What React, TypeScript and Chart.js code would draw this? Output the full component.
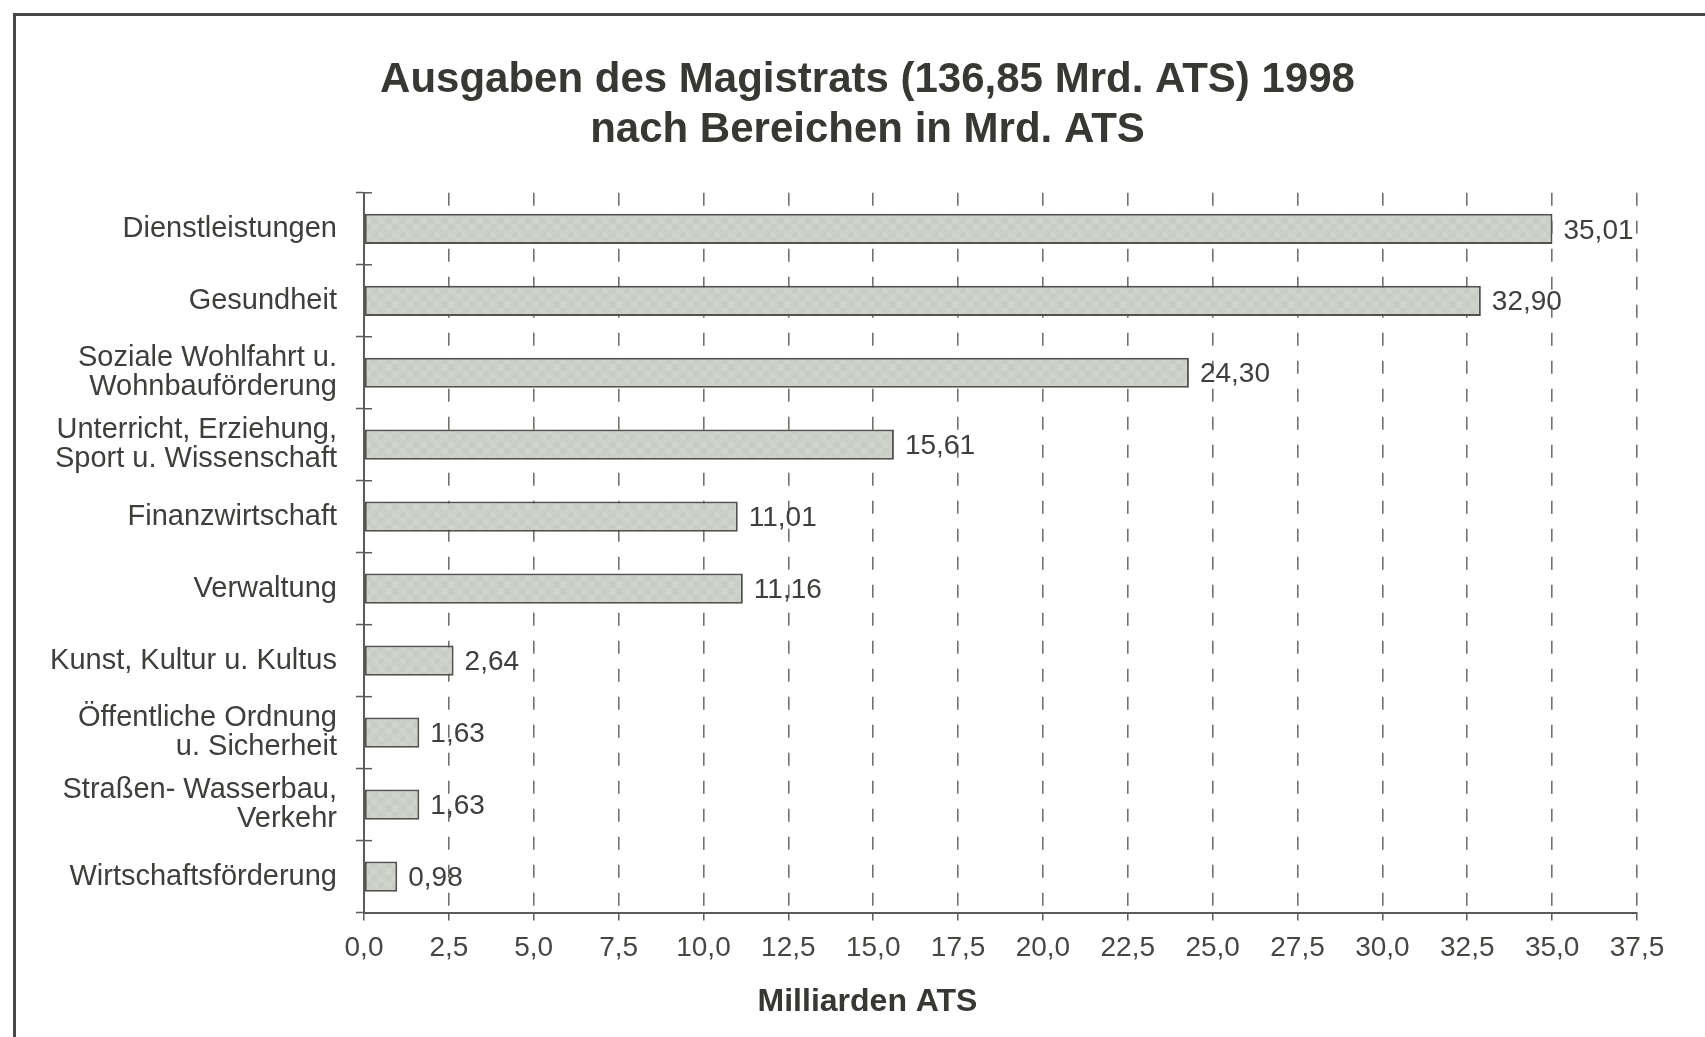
import React, { useEffect, useRef } from "react";
import { Chart, registerables } from "chart.js";

Chart.register(...registerables);

const categories: (string | string[])[] = [
  "Dienstleistungen",
  "Gesundheit",
  ["Soziale Wohlfahrt u.", "Wohnbauförderung"],
  ["Unterricht, Erziehung,", "Sport u. Wissenschaft"],
  "Finanzwirtschaft",
  "Verwaltung",
  "Kunst, Kultur u. Kultus",
  ["Öffentliche Ordnung", "u. Sicherheit"],
  ["Straßen- Wasserbau,", "Verkehr"],
  "Wirtschaftsförderung",
];
const values = [35.01, 32.9, 24.3, 15.61, 11.01, 11.16, 2.64, 1.63, 1.63, 0.98];
const titleLines = ["Ausgaben des Magistrats (136,85 Mrd. ATS) 1998", "nach Bereichen in Mrd. ATS"];
const axisTitle = "Milliarden ATS";
const xMin = 0;
const xMax = 37.5;
const xStep = 2.5;

const FONT = "'Liberation Sans', Arial, Helvetica, sans-serif";
const fmt = (v: number, d: number) => v.toFixed(d).replace(".", ",");

function makePattern(): CanvasPattern | string {
  const c = document.createElement("canvas");
  c.width = 14;
  c.height = 14;
  const g = c.getContext("2d");
  if (!g) return "#ced1c9";
  g.fillStyle = "#d0d3cb";
  g.fillRect(0, 0, 14, 14);
  g.fillStyle = "#cacdc5";
  g.fillRect(0, 0, 7, 7);
  g.fillRect(7, 7, 7, 7);
  const p = g.createPattern(c, "repeat");
  return p || "#ced1c9";
}

const valueLabels = {
  id: "valueLabels",
  afterDatasetsDraw(chart: any) {
    const ctx = chart.ctx;
    const meta = chart.getDatasetMeta(0);
    ctx.save();
    ctx.font = `28px ${FONT}`;
    ctx.fillStyle = "#3d3f3b";
    ctx.textAlign = "left";
    ctx.textBaseline = "middle";
    meta.data.forEach((bar: any, i: number) => {
      const v = chart.data.datasets[0].data[i] as number;
      ctx.fillText(fmt(v, 2), bar.x + 11, bar.y + 2);
    });
    ctx.restore();
  },
};

// small tick marks on the right side of the y axis at category boundaries
const yTickCross = {
  id: "yTickCross",
  afterDraw(chart: any) {
    const y = chart.scales.y;
    const ctx = chart.ctx;
    const n = chart.data.labels.length;
    const half = (y.getPixelForValue(1) - y.getPixelForValue(0)) / 2;
    ctx.save();
    ctx.strokeStyle = "#5a5c57";
    ctx.lineWidth = 1.5;
    for (let i = 0; i < n; i++) {
      const py = y.getPixelForValue(i) - half;
      ctx.beginPath();
      ctx.moveTo(y.right, py);
      ctx.lineTo(y.right + 8, py);
      ctx.stroke();
    }
    ctx.restore();
  },
};

export default function App() {
  const ref = useRef<HTMLCanvasElement | null>(null);

  useEffect(() => {
    if (!ref.current) return;
    const chart = new Chart(ref.current, {
      type: "bar",
      data: {
        labels: categories,
        datasets: [
          {
            data: values,
            backgroundColor: makePattern() as any,
            borderColor: "#50524d",
            borderWidth: 2,
            borderSkipped: false,
            barPercentage: 0.42,
            categoryPercentage: 1,
          },
        ],
      },
      options: {
        indexAxis: "y",
        animation: false,
        responsive: false,
        maintainAspectRatio: false,
        layout: { padding: { left: 0, right: 0, top: 0, bottom: 0 } },
        plugins: {
          legend: { display: false },
          tooltip: { enabled: false },
          title: {
            display: true,
            text: titleLines,
            color: "#363833",
            font: { family: FONT, size: 42, weight: "bold", lineHeight: 1.2 },
            padding: { top: 55, bottom: 37 },
          },
          subtitle: {
            display: true,
            position: "bottom",
            text: axisTitle,
            color: "#363833",
            font: { family: FONT, size: 32, weight: "bold", lineHeight: 1.2 },
            padding: { top: 6, bottom: 16 },
          },
        },
        scales: {
          x: {
            type: "linear",
            position: "bottom",
            min: xMin,
            max: xMax,
            afterFit: (s: any) => {
              s.height = 64;
            },
            ticks: {
              stepSize: xStep,
              color: "#454742",
              font: { family: FONT, size: 28 },
              padding: 11,
              callback: (v: any) => fmt(Number(v), 1),
              maxRotation: 0,
              autoSkip: false,
            },
            grid: {
              color: "#71736e",
              lineWidth: 1.6,
              tickLength: 8,
              tickColor: "#5a5c57",
              tickWidth: 1.5,
              tickBorderDash: [],
            } as any,
            border: { display: true, color: "#5a5c57", width: 2, dash: [13, 15] },
          },
          y: {
            type: "category",
            position: "left",
            afterFit: (s: any) => {
              s.width = 364;
            },
            ticks: {
              color: "#3d3f3b",
              font: { family: FONT, size: 29, lineHeight: 1.0 },
              padding: 19,
              autoSkip: false,
            },
            grid: {
              display: true,
              drawOnChartArea: false,
              offset: true,
              tickLength: 8,
              tickColor: "#5a5c57",
              tickWidth: 1.5,
            },
            border: { display: true, color: "#5a5c57", width: 2 },
          },
          yRight: {
            type: "linear",
            position: "right",
            display: true,
            afterFit: (s: any) => {
              s.width = 98;
            },
            ticks: { display: false },
            grid: { display: false, drawTicks: false },
            border: { display: false },
          },
        },
      },
      plugins: [valueLabels, yTickCross],
    });
    return () => chart.destroy();
  }, []);

  return (
    <div
      style={{
        position: "fixed",
        left: 0,
        top: 0,
        width: 1705,
        height: 1037,
        overflow: "hidden",
        background: "#ffffff",
      }}
    >
      <div
        style={{
          position: "absolute",
          left: 13,
          top: 13,
          width: 3000,
          height: 3000,
          border: "3px solid #454843",
        }}
      />
      <canvas
        ref={ref}
        width={1735}
        height={1037}
        style={{ position: "absolute", left: 0, top: 0, width: 1735, height: 1037 }}
      />
    </div>
  );
}
